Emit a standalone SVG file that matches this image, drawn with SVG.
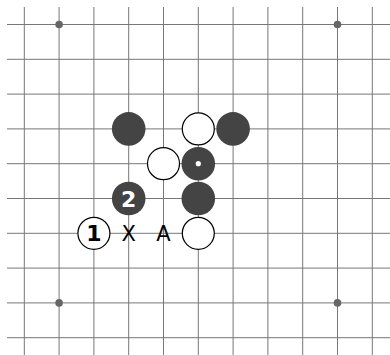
<svg xmlns="http://www.w3.org/2000/svg" width="390" height="355" viewBox="0 0 390 355">
<style>
.g line{stroke:#777;stroke-width:1}
.hoshi{fill:#666}
.b{fill:#444}
.w{fill:#fff;stroke:#000;stroke-width:1.2}
.num{font-family:"DejaVu Sans",sans-serif;font-weight:bold;font-size:22px;text-anchor:middle}
.lbl{font-family:"DejaVu Sans",sans-serif;font-size:21px;text-anchor:middle;fill:#000}
</style>
<rect width="390" height="355" fill="#fff"/>
<g id="grid" class="g">
<line x1="24.3" y1="7" x2="24.3" y2="355"/>
<line x1="59.1" y1="7" x2="59.1" y2="355"/>
<line x1="93.9" y1="7" x2="93.9" y2="355"/>
<line x1="128.7" y1="7" x2="128.7" y2="355"/>
<line x1="163.5" y1="7" x2="163.5" y2="355"/>
<line x1="198.3" y1="7" x2="198.3" y2="355"/>
<line x1="233.1" y1="7" x2="233.1" y2="355"/>
<line x1="267.9" y1="7" x2="267.9" y2="355"/>
<line x1="302.7" y1="7" x2="302.7" y2="355"/>
<line x1="337.5" y1="7" x2="337.5" y2="355"/>
<line x1="372.3" y1="7" x2="372.3" y2="355"/>
<line x1="7" y1="24.5" x2="390" y2="24.5"/>
<line x1="7" y1="59.3" x2="390" y2="59.3"/>
<line x1="7" y1="94.1" x2="390" y2="94.1"/>
<line x1="7" y1="128.9" x2="390" y2="128.9"/>
<line x1="7" y1="163.7" x2="390" y2="163.7"/>
<line x1="7" y1="198.5" x2="390" y2="198.5"/>
<line x1="7" y1="233.3" x2="390" y2="233.3"/>
<line x1="7" y1="268.1" x2="390" y2="268.1"/>
<line x1="7" y1="302.9" x2="390" y2="302.9"/>
<line x1="7" y1="337.7" x2="390" y2="337.7"/>
</g>
<g id="hoshi">
<circle class="hoshi" cx="59.1" cy="24.5" r="3.8"/>
<circle class="hoshi" cx="337.5" cy="24.5" r="3.8"/>
<circle class="hoshi" cx="59.1" cy="302.9" r="3.8"/>
<circle class="hoshi" cx="337.5" cy="302.9" r="3.8"/>
</g>
<g id="b1"><circle class="b" cx="128.7" cy="128.9" r="16.8"/></g>
<g id="w1"><circle class="w" cx="198.3" cy="128.9" r="16"/></g>
<g id="b2"><circle class="b" cx="233.1" cy="128.9" r="16.8"/></g>
<g id="w2"><circle class="w" cx="163.5" cy="163.7" r="16"/></g>
<g id="b3"><circle class="b" cx="198.3" cy="163.7" r="16.8"/><circle cx="198.3" cy="163.7" r="2.6" fill="#fff"/></g>
<g id="b4"><circle class="b" cx="128.7" cy="198.5" r="16.8"/><text class="num" x="128.7" y="206.6" fill="#fff">2</text></g>
<g id="b5"><circle class="b" cx="198.3" cy="198.5" r="16.8"/></g>
<g id="w3"><circle class="w" cx="93.9" cy="233.3" r="16"/><text class="num" x="93.9" y="241.4" fill="#000">1</text></g>
<g id="lx"><text class="lbl" x="128.7" y="241">X</text></g>
<g id="la"><text class="lbl" x="163.5" y="241">A</text></g>
<g id="w4"><circle class="w" cx="198.3" cy="233.3" r="16"/></g>
</svg>
